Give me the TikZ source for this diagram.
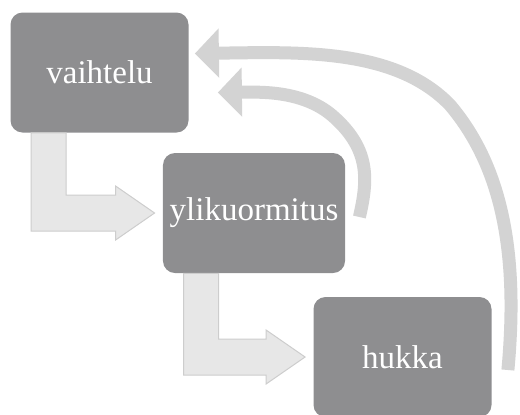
\documentclass[tikz,border=0pt]{standalone}
\usepackage{fontspec}
\setmainfont{Liberation Serif}
\usetikzlibrary{arrows.meta,calc}

\definecolor{stagegray}{HTML}{8E8E90}
\definecolor{flowfill}{HTML}{E7E7E7}
\definecolor{flowline}{HTML}{CDCDCD}
\definecolor{loopgray}{HTML}{D3D3D3}

\tikzset{
  stage/.style={fill=stagegray, rounded corners=6pt, minimum width=89pt,
    minimum height=60pt, text=white, font=\fontsize{16.5}{19}\selectfont},
  flow/.style={fill=flowfill, draw=flowline, line width=0.5pt},
  feedback/.style={draw=loopgray, line width=6.5pt,
    -{Triangle[length=12pt, width=24pt]}}
}

% block arrow from the bottom of #1 to the left side of #2
\newcommand{\elbowarrow}[2]{%
  \draw[flow] ($(#1.south west)+(21,0)$) -- ($(#1.south west)+(56,0)$)
    |- ($(#2.west)+(-47,-18)$) -- ($(#2.west)+(-47,-27)$)
    -- ($(#2.west)+(-8,0)$) -- ($(#2.west)+(-47,27)$)
    -- ($(#2.west)+(-47,18)$) -| cycle;}

\begin{document}
\begin{tikzpicture}[x=0.5pt, y=-0.5pt]
  \useasboundingbox (0,0) rectangle (520,414);

  \node[stage] (vaihtelu) at (99.5,72.5) {vaihtelu};
  \node[stage] (ylik) at (254,213) {ylikuormitus};
  \node[stage] (hukka) at (402.5,357) {hukka};

  \elbowarrow{vaihtelu}{ylik}
  \elbowarrow{ylik}{hukka}

  % feedback loops
  \coordinate (outA) at ($(hukka.east)+(16,13)$);
  \coordinate (outB) at ($(vaihtelu.east)+(6,-19)$);
  \coordinate (inA) at ($(ylik.east)+(14,4)$);
  \coordinate (inB) at ($(vaihtelu.east)+(29,20)$);

  \draw[feedback] (outA) .. controls (518,260) and (505,170) .. (450,105)
    .. controls (395,48) and (300,52) .. (outB);
  \draw[feedback] (inA) .. controls (368,180) and (370,150) .. (335,118)
    .. controls (305,90) and (260,92) .. (inB);
\end{tikzpicture}
\end{document}
